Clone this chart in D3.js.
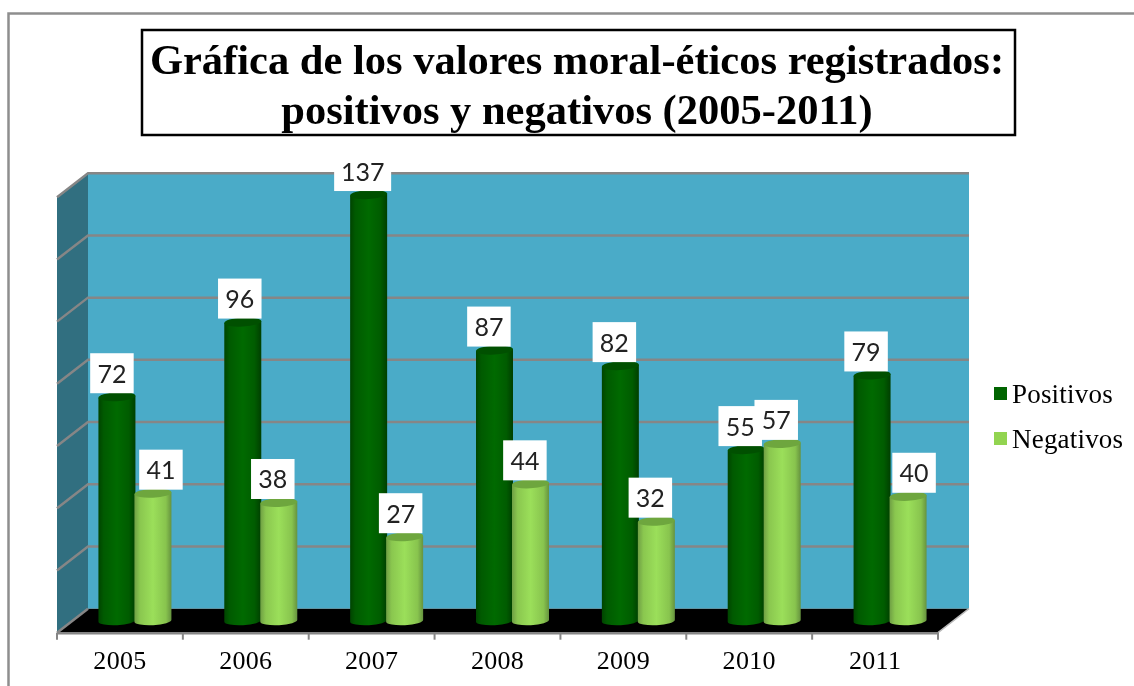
<!DOCTYPE html>
<html><head><meta charset="utf-8">
<script src="https://cdnjs.cloudflare.com/ajax/libs/d3/7.8.5/d3.min.js"></script>
<style>html,body{margin:0;padding:0;background:#fff;overflow:hidden}svg{display:block;filter:blur(0.4px)}</style>
</head><body><svg id="c" width="1134" height="686"></svg>
<script>
const years = ["2005","2006","2007","2008","2009","2010","2011"];
const seriesNames = ["Positivos","Negativos"];
const positivos = [72,96,137,87,82,55,79];
const negativos = [41,38,27,44,32,57,40];
const titleLines = ["Gráfica de los valores moral-éticos registrados:","positivos y negativos (2005-2011)"];
const yTicks = [0,20,40,60,80,100,120,140];

const svg = d3.select("#c");
const serif = "'Liberation Serif'";
const grey = "#868686";
const depth = {x:31, y:24};
const x0 = d3.scaleBand().domain(years).range([57,938]);
const x1 = d3.scaleBand().domain(seriesNames).range([0,72]);
const y = d3.scaleLinear().domain([0,140]).range([632.7,197.2]);
const floorFront = y(0), topFront = y(140);
const L = x0.range()[0], R = x0.range()[1];

// outer frame
svg.append("path").attr("d","M8.5,686V13.5H1134").attr("fill","none").attr("stroke","#8e8e8e").attr("stroke-width",2.5);

// gradients
const defs = svg.append("defs");
const grads = {
  Positivos:[["0","#004400"],["0.14","#005a00"],["0.5","#006a00"],["0.82","#005c00"],["1","#003f00"]],
  Negativos:[["0","#6f9f44"],["0.15","#8ac74f"],["0.5","#9bdf5a"],["0.85","#88c44e"],["1","#66933f"]]
};
seriesNames.forEach((s,i)=>{
  const g = defs.append("linearGradient").attr("id","g"+i);
  grads[s].forEach(d=>g.append("stop").attr("offset",d[0]).attr("stop-color",d[1]));
});

// walls and floor
svg.append("rect").attr("x",L+depth.x).attr("y",topFront-depth.y)
  .attr("width",R-L).attr("height",floorFront-topFront).attr("fill","#4aabc8");
svg.append("path").attr("fill","#316f80")
  .attr("d",`M${L},${topFront}L${L+depth.x},${topFront-depth.y}V${floorFront-depth.y}L${L},${floorFront}Z`);
svg.append("path").attr("fill","#000")
  .attr("d",`M${L},${floorFront}L${L+depth.x},${floorFront-depth.y}H${R+depth.x}L${R},${floorFront}Z`);

// gridlines
yTicks.forEach(t=>{
  const p = y(t);
  const d = t===0 ? `M${L},${p}L${L+depth.x},${p-depth.y}`
                  : `M${L},${p}L${L+depth.x},${p-depth.y}H${R+depth.x}`;
  svg.append("path").attr("d",d).attr("fill","none").attr("stroke",grey).attr("stroke-width",2.5);
});
svg.append("path").attr("d",`M${R},${floorFront}L${R+depth.x},${floorFront-depth.y}`)
  .attr("fill","none").attr("stroke","#bbb").attr("stroke-width",1.5);

// x axis
const axis = svg.append("g").attr("transform",`translate(0,${floorFront})`)
  .call(d3.axisBottom(x0).tickSize(0).tickPadding(18));
axis.select(".domain").attr("stroke",grey).attr("stroke-width",2.5);
axis.selectAll("text").attr("font-family",serif).attr("font-size",26).attr("fill","#000").attr("letter-spacing",0.3);
[...years.map(d=>x0(d)),R].forEach(p=>{
  svg.append("line").attr("x1",p).attr("x2",p).attr("y1",floorFront).attr("y2",floorFront+7)
    .attr("stroke",grey).attr("stroke-width",2);
});

// cylinders
const rx = 18.5, ry = 4.5, midX = 16, midY = 12, tilt = 1;
const rows = seriesNames.flatMap((s,i)=>years.map((yr,j)=>({
  s, i, yr, j, v:(i===0?positivos:negativos)[j]
})));
function cx(d){return x0(d.yr)+x0.bandwidth()/2 - 36 + x1(d.s) + x1.bandwidth()/2 + midX - 1;}
rows.forEach(d=>{
  const c = cx(d), b = y(0)-midY, t = y(d.v)-midY;
  const g = svg.append("g");
  g.append("path").attr("fill",`url(#g${d.i})`)
    .attr("d",`M${c-rx},${t+tilt}V${b+tilt}A${rx},${ry} -3 0 0 ${c+rx},${b-tilt}V${t-tilt}Z`);
  g.append("ellipse").attr("cx",c).attr("cy",t).attr("rx",rx).attr("ry",ry)
    .attr("transform",`rotate(-3 ${c} ${t})`)
    .attr("fill",d.i===0?"#005000":"#6ea63e");
});

// value labels
const nudgePos = [-5,-3,-6,-5.6,-6,-6,-6];
const nudgeNeg = [8,-6,-4,-5.6,-6,-6,6];
const boxW = v=>String(v).length>2?57:43.5;
rows.forEach(d=>{
  const c = cx(d) + (d.i===0?nudgePos:nudgeNeg)[d.j];
  const bottom = y(d.v)-midY-3.5;
  const w = boxW(d.v), h = d.v===137?30:40;
  svg.append("rect").attr("x",c-w/2).attr("y",bottom-h).attr("width",w).attr("height",h).attr("fill","#fff");
  svg.append("text").attr("x",c).attr("y",bottom-10.5).attr("text-anchor","middle")
    .attr("font-family","Lato").attr("font-size",25).attr("fill","#222").text(d.v);
});

// title
svg.append("rect").attr("x",142).attr("y",30).attr("width",873).attr("height",105)
  .attr("fill","#fff").attr("stroke","#000").attr("stroke-width",2.5);
titleLines.forEach((t,i)=>{
  svg.append("text").attr("x",577).attr("y",74+i*50).attr("text-anchor","middle")
    .attr("font-family",serif).attr("font-weight","bold").attr("font-size",42.5).attr("fill","#000").text(t);
});

// legend
const legendColors = ["#006400","#92d450"];
seriesNames.forEach((s,i)=>{
  svg.append("rect").attr("x",994).attr("y",387+i*45).attr("width",13).attr("height",13).attr("fill",legendColors[i]);
  svg.append("text").attr("x",1012).attr("y",403+i*45).attr("font-family",serif).attr("font-size",27)
    .attr("fill","#000").attr("letter-spacing",0.2).text(s);
});
</script></body></html>
